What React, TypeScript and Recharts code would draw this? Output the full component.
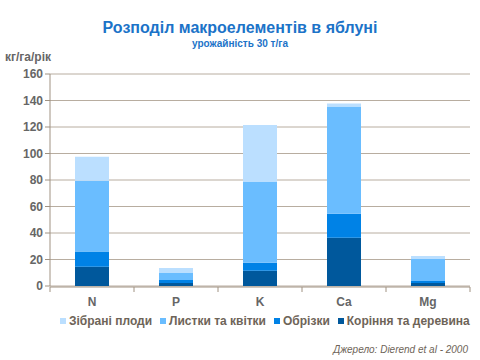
import { BarChart, Bar, XAxis, YAxis, CartesianGrid } from "recharts";

const elements = ["N", "P", "K", "Ca", "Mg"];
const roots = [14.5, 2.3, 11.5, 36.5, 2.2];
const prunings = [11.5, 2.2, 6, 18, 1.6];
const leaves = [53.5, 5.3, 61, 81, 16.6];
const fruits = [18, 3.8, 43, 2.3, 2.2];
const yTicks = [0, 20, 40, 60, 80, 100, 120, 140, 160];
const boundaryTicks = [0, 1, 2, 3, 4, 5];

const series = [
  { key: "fruits", name: "Зібрані плоди", color: "#bbdfff" },
  { key: "leaves", name: "Листки та квітки", color: "#6abdff" },
  { key: "prunings", name: "Обрізки", color: "#0082e6" },
  { key: "roots", name: "Коріння та деревина", color: "#00589c" },
];

const data = elements.map((el, i) => ({
  el,
  pos: i + 0.5,
  roots: roots[i],
  prunings: prunings[i],
  leaves: leaves[i],
  fruits: fruits[i],
}));

const font = "'Liberation Sans', Arial, sans-serif";
const textColor = "#666";
const axisColor = "#a09282";

export default function App() {
  return (
    <div style={{ position: "absolute", left: 0, top: 0, width: 480, height: 360, background: "#fff", fontFamily: font }}>
      <div style={{ position: "absolute", top: 19, width: 480, lineHeight: "18px", textAlign: "center", fontSize: 16, fontWeight: "bold", color: "#1c73c8" }}>
        Розподіл макроелементів в яблуні
      </div>
      <div style={{ position: "absolute", top: 38, width: 480, lineHeight: "12px", textAlign: "center", fontSize: 10, fontWeight: "bold", color: "#1c73c8" }}>
        урожайність 30 т/га
      </div>
      <div style={{ position: "absolute", top: 50, left: 5, fontSize: 12, fontWeight: "bold", color: textColor }}>
        кг/га/рік
      </div>
      <BarChart
        width={480}
        height={360}
        data={data}
        margin={{ top: 74, right: 10, left: 8, bottom: 67 }}
        barCategoryGap={25}
      >
        <CartesianGrid vertical={false} stroke="#b8ada0" />
        <XAxis
          dataKey="el"
          axisLine={false}
          tickLine={false}
          tick={{ fill: textColor, fontSize: 12, fontWeight: "bold" }}
          tickMargin={5}
          height={1}
        />
        <XAxis
          xAxisId="b"
          type="number"
          dataKey="pos"
          domain={[0, 5]}
          ticks={boundaryTicks}
          interval={0}
          axisLine={{ stroke: axisColor }}
          tick={{ fontSize: 1, fill: "#fff" }}
          tickLine={{ stroke: axisColor }}
          tickSize={5}
          height={6}
        />
        <YAxis
          domain={[0, 160]}
          ticks={yTicks}
          width={42}
          axisLine={{ stroke: axisColor }}
          tickLine={{ stroke: axisColor }}
          tickSize={5}
          tick={{ fill: textColor, fontSize: 12, fontWeight: "bold" }}
        />
        <YAxis yAxisId="r" orientation="right" width={0} tick={false} tickLine={false} axisLine={{ stroke: axisColor }} />
        {series
          .slice()
          .reverse()
          .map((s) => (
            <Bar key={s.key} dataKey={s.key} name={s.name} stackId="a" fill={s.color} isAnimationActive={false} />
          ))}
      </BarChart>
      <div style={{ position: "absolute", top: 314, left: 60, display: "flex", gap: 8, fontSize: 12, fontWeight: "bold", color: "#6e6458" }}>
        {series.map((s) => (
          <span key={s.key} style={{ display: "flex", alignItems: "center" }}>
            <span style={{ width: 6, height: 6, background: s.color, marginRight: 3, display: "inline-block" }} />
            {s.name}
          </span>
        ))}
      </div>
      <div style={{ position: "absolute", top: 344, right: 12, fontSize: 10, fontStyle: "italic", color: "#6e6458" }}>
        Джерело: Dierend et al - 2000
      </div>
    </div>
  );
}
